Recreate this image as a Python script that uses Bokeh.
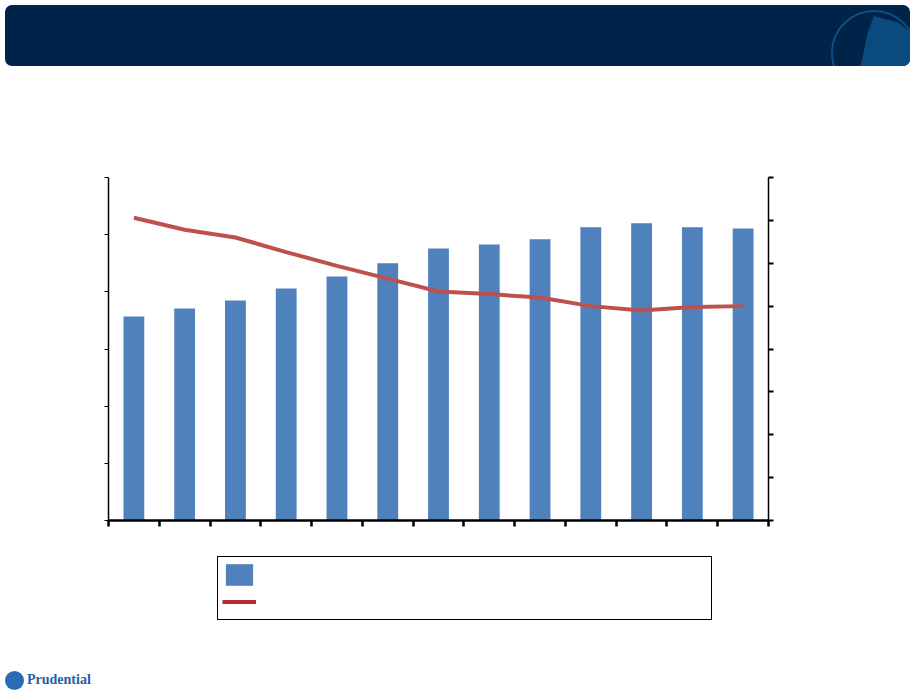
from bokeh.plotting import figure
from bokeh.models import (Range1d, LinearAxis, FixedTicker, Legend, LegendItem,
                          Div, ColumnDataSource, CustomJSTickFormatter)
from bokeh.layouts import column
from bokeh.embed import file_html
from bokeh.resources import INLINE

# ---- data (axis labels are not visible in the reference) ----
periods = [1, 2, 3, 4, 5, 6, 7, 8, 9, 10, 11, 12, 13]
bar_values = [35.7, 37.1, 38.5, 40.6, 42.7, 45.0, 47.6, 48.3, 49.2, 51.3, 52.0, 51.3, 51.1]
line_values = [35.3, 33.9, 33.0, 31.3, 29.7, 28.2, 26.7, 26.4, 26.0, 25.0, 24.5, 24.9, 25.0]
left_ticks = [0, 10, 20, 30, 40, 50, 60]
right_ticks = [0, 5, 10, 15, 20, 25, 30, 35, 40]
legend_labels = [" ", " "]

xs = [i for i in range(len(periods))]
src = ColumnDataSource(dict(x=xs, bar=bar_values, line=line_values))

BAR = "#4F81BD"
LINE = "#C0504D"
blank = CustomJSTickFormatter(code="return ''")

banner = Div(
    width=905, height=61,
    text='<div style="position:relative;width:86px;height:86px;border-radius:50%;'
         'margin-left:826px;margin-top:5px;border:2px solid #0d4f85;overflow:hidden;">'
         '<div style="position:absolute;left:12px;top:4px;width:76px;height:82px;background:#0b4a7d;'
         'clip-path:polygon(38% 0%,70% 8%,100% 30%,100% 100%,8% 100%,22% 55%,30% 20%);"></div></div>',
    styles={"background-color": "#00234A", "border-radius": "7px", "overflow": "hidden"},
)

# ---------------- main chart ----------------
p = figure(width=894, height=469, output_backend="svg", toolbar_location=None,
           x_range=Range1d(-0.5, len(periods) - 0.5), y_range=Range1d(left_ticks[0], left_ticks[-1]),
           min_border_left=108, min_border_right=126, min_border_top=106, min_border_bottom=20)
p.outline_line_color = None
p.grid.visible = False

p.extra_y_ranges = {"right": Range1d(right_ticks[0], right_ticks[-1])}

p.vbar(x="x", top="bar", width=0.41, source=src, color=BAR, line_color=None)
p.line(x="x", y="line", source=src, y_range_name="right", line_color=LINE, line_width=4)

p.xaxis.ticker = FixedTicker(ticks=[i - 0.5 for i in range(len(periods) + 1)])
p.xaxis.formatter = blank
p.xaxis.axis_line_color = "black"
p.xaxis.axis_line_width = 2.5
p.xaxis.major_tick_line_width = 2.5
p.xaxis.major_tick_out = 6
p.xaxis.major_tick_in = 0
p.xaxis.minor_tick_line_color = None

p.yaxis.ticker = FixedTicker(ticks=left_ticks)
p.yaxis.formatter = blank
p.yaxis.axis_line_width = 1.5
p.yaxis.major_tick_out = 4
p.yaxis.major_tick_in = 0
p.yaxis.minor_tick_line_color = None

rax = LinearAxis(y_range_name="right", ticker=FixedTicker(ticks=right_ticks), formatter=blank)
rax.axis_line_width = 1.5
rax.major_tick_line_width = 2
rax.major_tick_out = 5
rax.major_tick_in = 0
rax.minor_tick_line_color = None
p.add_layout(rax, "right")

# ---------------- legend strip (same series; ranges keep the marks out of view) ----------------
lg = figure(width=894, height=120, output_backend="svg", toolbar_location=None,
            x_range=Range1d(1000, 1001), y_range=Range1d(1000, 1001),
            min_border=0, x_axis_type=None, y_axis_type=None)
lg.outline_line_color = None
lg.grid.visible = False
lb = lg.vbar(x="x", top="bar", width=0.41, source=src, color=BAR, line_color=None)
ll = lg.line(x="x", y="line", source=src, line_color="#B52B2B", line_width=4)
legend = Legend(items=[LegendItem(label=legend_labels[0], renderers=[lb]),
                       LegendItem(label=legend_labels[1], renderers=[ll])],
                location=(109, 40), orientation="vertical",
                glyph_width=34, glyph_height=27, label_width=446, label_standoff=5,
                padding=4, spacing=0, margin=0,
                border_line_color="black", border_line_width=1.5, border_line_alpha=1,
                background_fill_color="white", background_fill_alpha=1)
lg.add_layout(legend, "center")

logo = Div(
    width=200, height=25,
    text='<div style="display:flex;align-items:center;margin-left:0px;margin-top:5px;">'
         '<div style="width:19px;height:19px;border-radius:50%;background:#2a6db5;margin-right:3px;"></div>'
         '<span style="font-family:\'Liberation Serif\';font-weight:bold;font-size:14px;color:#1F5FA8;">'
         'Prudential</span></div>',
)

page = column(banner, p, lg, logo, spacing=0)
open("out.html", "w").write(file_html(page, INLINE))
